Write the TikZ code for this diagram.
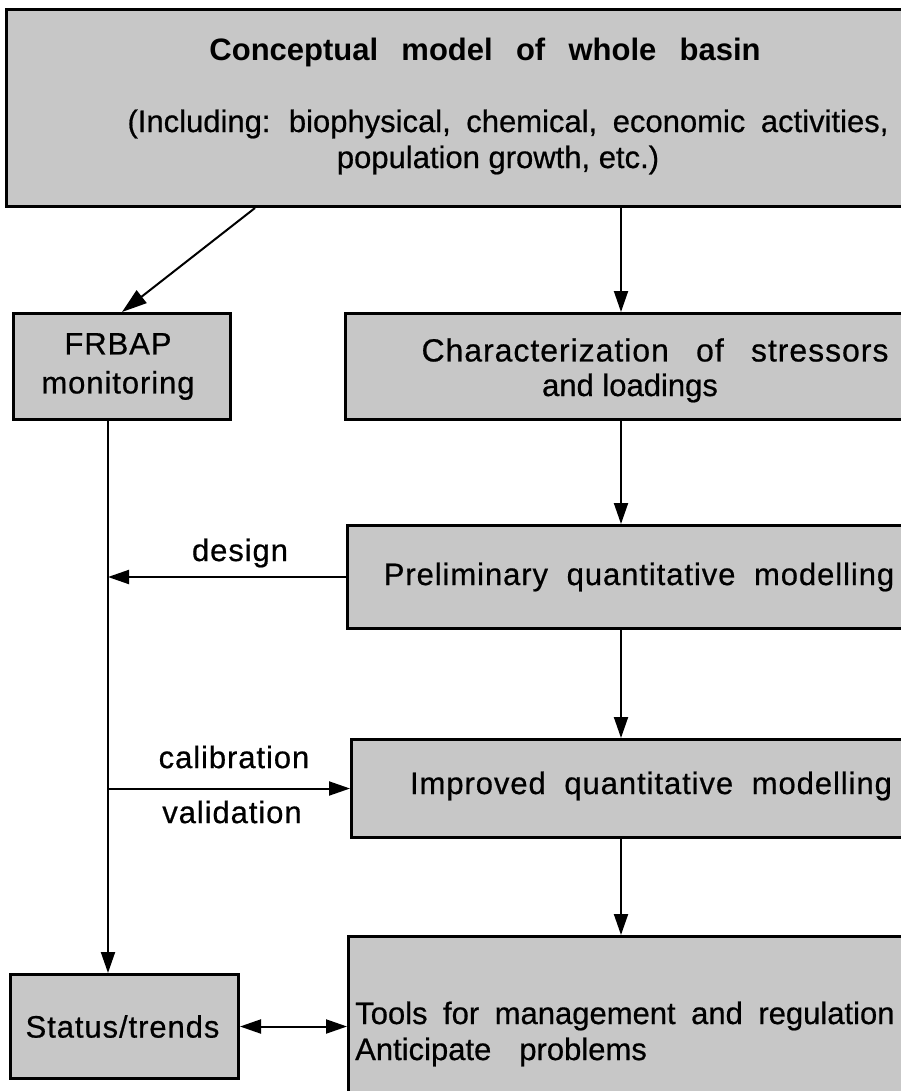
\documentclass[tikz,border=0pt]{standalone}
\usepackage{fontspec}
\setmainfont{Liberation Sans}
\newfontfamily\rgfont[FakeBold=0.6]{Liberation Sans}
\newfontfamily\lsfont[LetterSpace=3,FakeBold=0.6]{Liberation Sans}
\usetikzlibrary{arrows.meta}
\newcommand\mytxt{\rgfont\fontsize{31}{39}\selectfont\spaceskip=0.5em plus 0.1em\relax}
\newcommand\mywide{\lsfont\fontsize{31}{39}\selectfont\spaceskip=0.6em plus 0.1em\relax}
\newcommand\mychar{\lsfont\fontsize{32}{39}\selectfont\spaceskip=0.85em plus 0.1em\relax}
\newcommand\mynorm{\rgfont\fontsize{31}{39}\selectfont}
\newcommand\myls{\lsfont\fontsize{31}{39}\selectfont}
\newcommand\mybold{\bfseries\fontsize{31}{39}\selectfont\spaceskip=0.75em plus 0.1em\relax}
\begin{document}
\begin{tikzpicture}[x=1pt,y=-1pt,
  box/.style={draw=black, line width=3pt, fill=black!22, inner sep=0pt, anchor=north west},
  arr/.style={line width=2pt, -{Triangle[length=21pt,width=14pt]}},
  txt/.style={font=\mytxt, inner sep=0pt, align=center},
]
\useasboundingbox (0,0) rectangle (901,1091);
\clip (0,0) rectangle (901,1091);
\fill[white] (0,0) rectangle (901,1091);

% boxes
\node[box, minimum width=910pt, minimum height=197pt] (basin) at (5,8) {};
\node[box, minimum width=217pt, minimum height=106pt] (frbap) at (12,312) {};
\node[box, minimum width=571pt, minimum height=106pt] (char) at (344,312) {};
\node[box, minimum width=569pt, minimum height=103pt] (prelim) at (346,524) {};
\node[box, minimum width=565pt, minimum height=98pt] (improved) at (350,738) {};
\node[box, minimum width=568pt, minimum height=170pt] (tools) at (347,935) {};
\node[box, minimum width=228pt, minimum height=104pt] (status) at (9,973) {};

% texts
\node[txt, font=\mybold] (title) at (485,52) {Conceptual model of whole basin};
\node[txt] (incl) at (508,124) {(Including: biophysical, chemical, economic activities,};
\node[txt, font=\mynorm] (pop) at (498,160) {population growth, etc.)};
\node[txt, font=\myls] (frbaptxt) at ([xshift=-4pt]frbap.center) {FRBAP\\monitoring};
\node[txt, font=\mychar] (charA) at (655,350) {Characterization of stressors};
\node[txt, font=\mynorm] (charB) at (630,388) {and loadings};
\node[txt, font=\mywide] (prelimtxt) at (639,577) {Preliminary quantitative modelling};
\node[txt, font=\mywide] (improvedtxt) at (651,786) {Improved quantitative modelling};
\node[txt, anchor=west, font=\mytxt] (toolsA) at (355,1016) {Tools for management and regulation};
\node[txt, anchor=west, font=\mynorm] (toolsB) at (355,1052) {Anticipate\hspace{28pt}problems};
\node[txt, font=\myls] (statustxt) at ([xshift=-2pt]status.center) {Status/trends};
\node[txt, font=\myls] (design) at (240,553) {design};
\node[txt, font=\myls] (calib) at (234,757) {calibration};
\node[txt, font=\myls] (valid) at (232,812) {validation};

% connectors
\coordinate (cx) at (621,0);
\coordinate (lx) at (108,0);
\draw[arr, -{Triangle[length=25pt,width=16pt]}] ([xshift=250pt]basin.south west) -- ([xshift=110pt]frbap.north west);
\draw[arr] (basin.south -| cx) -- (char.north -| cx);
\draw[arr] (char.south -| cx) -- (prelim.north -| cx);
\draw[arr] (prelim.south -| cx) -- (improved.north -| cx);
\draw[arr] (improved.south -| cx) -- (tools.north -| cx);
\draw[arr] (frbap.south -| lx) -- (status.north -| lx);
\draw[arr] (prelim.west) -- (prelim.west -| lx);
\draw[arr] (improved.west -| lx) -- (improved.west);
\draw[arr, {Triangle[length=21pt,width=14pt]}-{Triangle[length=21pt,width=14pt]}] (status.east) -- (status.east -| tools.west);
\end{tikzpicture}
\end{document}
